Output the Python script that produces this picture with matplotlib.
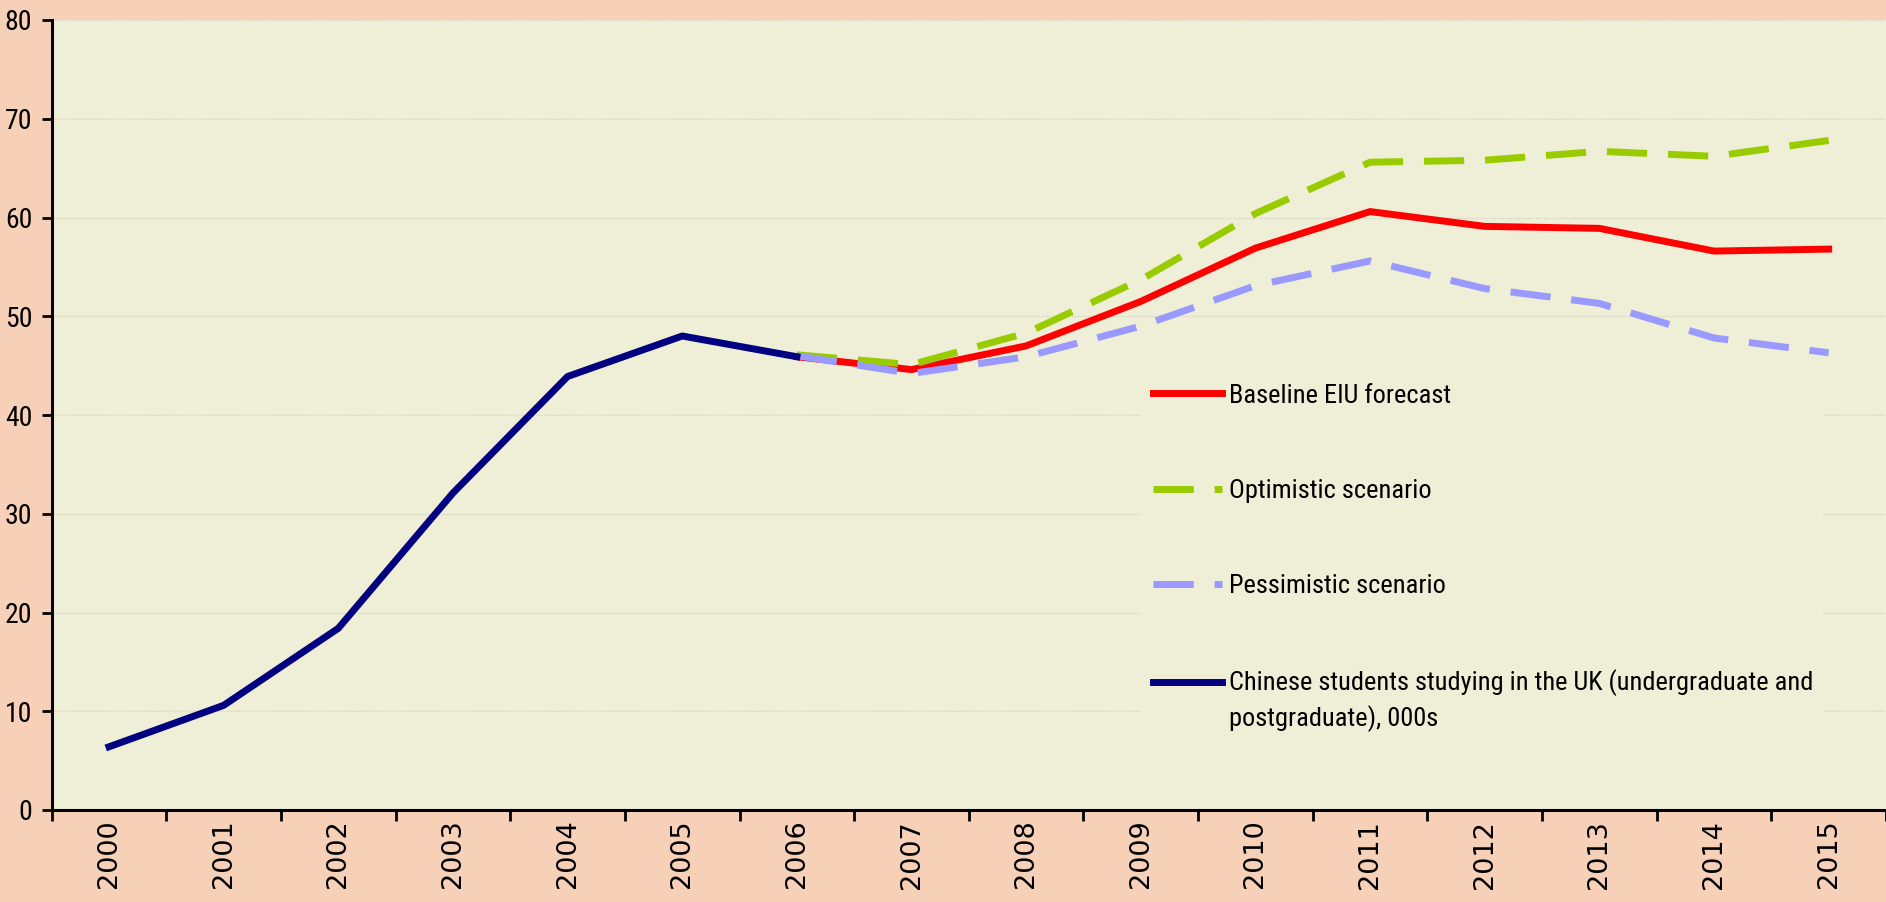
import os
import re
import numpy as np
import matplotlib
matplotlib.use("Agg")
import matplotlib.pyplot as plt
from matplotlib import font_manager as fm
from matplotlib.legend_handler import HandlerLine2D

# ---------------- data ----------------
years = ["2000", "2001", "2002", "2003", "2004", "2005", "2006", "2007",
         "2008", "2009", "2010", "2011", "2012", "2013", "2014", "2015"]
actual_years = years[:7]
actual = [6.4, 10.6, 18.4, 32.1, 43.9, 48.0, 45.9]
forecast_years = years[6:]
baseline = [45.9, 44.6, 47.0, 51.5, 56.9, 60.6, 59.1, 58.9, 56.6, 56.8]
optimistic = [46.1, 45.1, 48.3, 53.7, 60.4, 65.6, 65.8, 66.7, 66.2, 67.8]
pessimistic = [46.0, 44.2, 45.9, 49.0, 53.1, 55.6, 52.8, 51.3, 47.8, 46.3]
labels = ["Baseline EIU forecast", "Optimistic scenario", "Pessimistic scenario",
          "Chinese students studying in the UK (undergraduate and\npostgraduate), 000s"]
yticks = [0, 10, 20, 30, 40, 50, 60, 70, 80]

# ---------------- narrow font lookup ----------------
prefs = [r"^NotoSans-ExtraCondensed\.ttf$", r"^LiberationSansNarrow-Regular\.ttf$",
         r"^NotoSans-Condensed\.ttf$", r"^RobotoCondensed-Regular\.ttf$",
         r"^OpenSans[-_]?Condensed.*Regular.*\.ttf$", r"^DejaVuSansCondensed\.ttf$"]
files = [f.fname for f in fm.fontManager.ttflist]
narrow_file = None
for p in prefs:
    hits = [f for f in files if re.search(p, os.path.basename(f))]
    if hits:
        narrow_file = hits[0]
        break


def nfont(size):
    if narrow_file:
        return fm.FontProperties(fname=narrow_file, size=size)
    return fm.FontProperties(family="Liberation Sans", size=size)


fig_bg = "#F6D1B8"
ax_bg = "#EFEED7"
c_base = "#FF0000"
c_opt = "#99CC00"
c_pes = "#9999FF"
c_act = "#000080"

W, H = 1886, 902
fig = plt.figure(figsize=(W / 100, H / 100), dpi=100, facecolor=fig_bg)
ax = fig.add_axes([51.7 / W, (H - 810) / H, 1 - 51.7 / W, (810 - 20) / H])
ax.set_facecolor(ax_bg)

idx = {y: i for i, y in enumerate(years)}
xa = [idx[y] for y in actual_years]
xf = [idx[y] for y in forecast_years]

lw = 5
dash = (5.8, 3.0)
l1, = ax.plot(xf, baseline, color=c_base, lw=lw, solid_joinstyle="miter", zorder=3)
l2, = ax.plot(xf, optimistic, color=c_opt, lw=lw, dashes=dash, zorder=4)
l3, = ax.plot(xf, pessimistic, color=c_pes, lw=lw, dashes=dash, zorder=5)
l4, = ax.plot(xa, actual, color=c_act, lw=lw, zorder=6)

ax.set_xlim(-0.5, 15.49)
ax.set_ylim(0, 80)

# y axis
ax.set_yticks(yticks)
ax.set_yticklabels([str(v) for v in yticks])
for t in ax.get_yticklabels():
    t.set_fontproperties(nfont(20))
ax.tick_params(axis="y", direction="out", length=7, width=2, pad=7, colors="black")
ax.yaxis.grid(True, color="#D6D5C6", lw=1.0, ls=(0, (1, 1)))
ax.set_axisbelow(True)

# x axis: boundary ticks + centred labels
ax.set_xticks(np.arange(-0.5, 16.0, 1.0))
ax.set_xticklabels([])
ax.set_xticks(np.arange(len(years)), minor=True)
ax.set_xticklabels(years, minor=True, rotation=90, fontname="DejaVu Sans", fontsize=19.5)
ax.tick_params(axis="x", which="major", direction="out", length=8, width=2)
ax.tick_params(axis="x", which="minor", length=0, pad=7)

for s in ("top", "right"):
    ax.spines[s].set_visible(False)
for s in ("left", "bottom"):
    ax.spines[s].set_linewidth(2.2)
    ax.spines[s].set_color("black")


class FirstLineHandler(HandlerLine2D):
    def __init__(self, shift, **kw):
        super().__init__(**kw)
        self._shift = shift

    def create_artists(self, legend, orig_handle, xdescent, ydescent, width,
                       height, fontsize, trans):
        arts = super().create_artists(legend, orig_handle, xdescent, ydescent,
                                      width, height, fontsize, trans)
        for a in arts:
            a.set_ydata(np.asarray(a.get_ydata()) + self._shift)
        return arts


leg_fs = 19
leg = ax.legend([l1, l2, l3, l4], labels,
                loc="upper left", bbox_to_anchor=(1142 / W, (H - 373) / H),
                bbox_transform=fig.transFigure, borderaxespad=0,
                frameon=True, facecolor=ax_bg, edgecolor="none", framealpha=1,
                fancybox=False, prop=nfont(leg_fs),
                handlelength=2.65, handletextpad=0.23, labelspacing=2.7,
                borderpad=0.4,
                handler_map={l4: FirstLineHandler(shift=14.0)})
for t in leg.get_texts():
    t.set_linespacing(1.45)
leg.set_zorder(10)

fig.savefig("out.png", dpi=100, facecolor=fig_bg)
